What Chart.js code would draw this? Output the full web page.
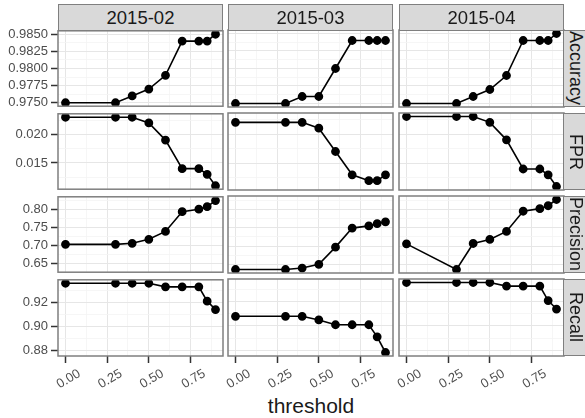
<!DOCTYPE html>
<html>
<head>
<meta charset="utf-8">
<script src="https://cdn.jsdelivr.net/npm/chart.js@4.4.1/dist/chart.umd.min.js"></script>
<style>
    body { margin: 0; width: 585px; height: 418px; position: relative; background: #fff; overflow: hidden;
           font-family: "Liberation Sans", Arial, sans-serif; }
    canvas { position: absolute; }
    .strip { position: absolute; background: #d9d9d9; border: 1px solid #7f7f7f; box-sizing: border-box;
             display: flex; align-items: center; justify-content: center; color: #1a1a1a;
             font-size: 18.5px; overflow: hidden; }
    .strip.right { font-size: 18px; }
    .strip.right span { writing-mode: vertical-rl; }
    #x-title { position: absolute; left: 58px; width: 506px; top: 395px; line-height: 21px;
               text-align: center; font-size: 21px; color: #1a1a1a; }
</style>
</head>
<body>
<div id="x-title">threshold</div>
<script>
// Facet labels
const months = ['2015-02', '2015-03', '2015-04'];
const metrics = ['Accuracy', 'FPR', 'Precision', 'Recall'];

// x values shared by every panel
const thresholds = [0, 0.3, 0.4, 0.5, 0.6, 0.7, 0.8, 0.85, 0.9];

// Series (one per month / metric)
const accuracy02 = [0.975, 0.975, 0.976, 0.977, 0.979, 0.984, 0.984, 0.984, 0.985];
const accuracy03 = [0.975, 0.975, 0.976, 0.976, 0.980, 0.984, 0.984, 0.984, 0.984];
const accuracy04 = [0.975, 0.975, 0.976, 0.977, 0.979, 0.984, 0.984, 0.984, 0.985];

const fpr02 = [0.023, 0.023, 0.023, 0.022, 0.019, 0.014, 0.014, 0.013, 0.011];
const fpr03 = [0.022, 0.022, 0.022, 0.021, 0.017, 0.013, 0.012, 0.012, 0.013];
const fpr04 = [0.023, 0.023, 0.023, 0.022, 0.019, 0.014, 0.014, 0.013, 0.011];

const precision02 = [0.704, 0.704, 0.707, 0.718, 0.740, 0.795, 0.802, 0.809, 0.826];
const precision03 = [0.636, 0.636, 0.640, 0.650, 0.697, 0.749, 0.755, 0.761, 0.766];
const precision04 = [0.706, 0.636, 0.707, 0.718, 0.740, 0.795, 0.802, 0.810, 0.827];

const recall02 = [0.936, 0.936, 0.936, 0.936, 0.933, 0.933, 0.933, 0.921, 0.914];
const recall03 = [0.908, 0.908, 0.908, 0.905, 0.901, 0.901, 0.901, 0.891, 0.878];
const recall04 = [0.936, 0.936, 0.936, 0.936, 0.933, 0.933, 0.933, 0.921, 0.914];

// Tick labels
const xTickLabels = ['0.00', '0.25', '0.50', '0.75'];
const accuracyTicks = ['0.9750', '0.9775', '0.9800', '0.9825', '0.9850'];
const fprTicks = ['0.015', '0.020'];
const precisionTicks = ['0.65', '0.70', '0.75', '0.80'];
const recallTicks = ['0.88', '0.90', '0.92'];

const seriesByRow = [
    [accuracy02, accuracy03, accuracy04],
    [fpr02, fpr03, fpr04],
    [precision02, precision03, precision04],
    [recall02, recall03, recall04]
];
const ticksByRow = [accuracyTicks, fprTicks, precisionTicks, recallTicks];

// Layout (pixels)
const colLeft = [58, 228, 399];
const rowTop = [30, 113, 196, 279];
const PANEL_W = 165, PANEL_H = 77;
const AXIS_W = 58, PAD = 10, X_AXIS_H = 50;

Chart.defaults.font.family = '"Liberation Sans", Arial, sans-serif';

// ggplot style range: data range expanded by 5% each side
const expand = (vals) => {
    const lo = Math.min(...vals), hi = Math.max(...vals);
    const d = (hi - lo) * 0.05;
    return [lo - d, hi + d];
};

// major ticks plus minor ticks halfway between them
const buildTicks = (labels, min, max) => {
    const majors = labels.map(l => parseFloat(l));
    const step = majors[1] - majors[0];
    const all = majors.slice();
    majors.forEach(v => all.push(v - step / 2));
    all.push(majors[majors.length - 1] + step / 2);
    return all.filter(v => v >= min && v <= max).sort((a, b) => a - b);
};

const labelFor = (labels, value) => {
    const hit = labels.find(l => Math.abs(parseFloat(l) - value) < 1e-9);
    return hit || '';
};
const isMajor = (labels, value) => labels.some(l => Math.abs(parseFloat(l) - value) < 1e-9);

const panelBorder = {
    id: 'panelBorder',
    afterDraw: (chart) => {
        const { ctx, chartArea: a } = chart;
        ctx.save();
        ctx.strokeStyle = '#7f7f7f';
        ctx.lineWidth = 1.5;
        ctx.strokeRect(a.left, a.top, a.right - a.left, a.bottom - a.top);
        ctx.restore();
    }
};

const [xMin, xMax] = expand(thresholds);

metrics.forEach((metric, r) => {
    const lastRow = r === metrics.length - 1;
    const yLabels = ticksByRow[r];
    const [yMin, yMax] = expand(seriesByRow[r].flat());

    months.forEach((month, c) => {
        const firstCol = c === 0;
        const canvas = document.createElement('canvas');
        const w = AXIS_W + PANEL_W + PAD;
        const h = PAD + PANEL_H + (lastRow ? X_AXIS_H : PAD);
        canvas.width = w;
        canvas.height = h;
        canvas.style.left = (colLeft[c] - AXIS_W) + 'px';
        canvas.style.top = (rowTop[r] - PAD) + 'px';
        canvas.style.width = w + 'px';
        canvas.style.height = h + 'px';
        document.body.appendChild(canvas);

        const values = seriesByRow[r][c];

        new Chart(canvas.getContext('2d'), {
            type: 'line',
            data: {
                datasets: [{
                    data: thresholds.map((x, i) => ({ x: x, y: values[i] })),
                    borderColor: '#000',
                    backgroundColor: '#000',
                    borderWidth: 1.6,
                    pointRadius: 3.6,
                    pointHoverRadius: 3.6,
                    tension: 0
                }]
            },
            options: {
                responsive: false,
                animation: false,
                events: [],
                layout: { padding: { left: 0, top: PAD, right: PAD, bottom: lastRow ? 0 : PAD } },
                plugins: { legend: { display: false }, tooltip: { enabled: false } },
                scales: {
                    x: {
                        type: 'linear',
                        min: xMin,
                        max: xMax,
                        afterBuildTicks: (s) => { s.ticks = buildTicks(xTickLabels, xMin, xMax).map(v => ({ value: v })); },
                        afterFit: (s) => { s.height = lastRow ? X_AXIS_H : 0; },
                        border: { display: false },
                        grid: {
                            color: (ctx) => isMajor(xTickLabels, ctx.tick.value) ? '#e6e6e6' : '#f4f4f4',
                            lineWidth: (ctx) => isMajor(xTickLabels, ctx.tick.value) ? 1 : 0.8,
                            drawTicks: lastRow,
                            tickLength: 7,
                            tickColor: (ctx) => isMajor(xTickLabels, ctx.tick.value) ? '#333' : 'rgba(0,0,0,0)',
                            tickWidth: 1.5
                        },
                        ticks: {
                            display: lastRow,
                            autoSkip: false,
                            minRotation: 30,
                            maxRotation: 30,
                            padding: 3,
                            labelOffset: 14,
                            color: '#4d4d4d',
                            font: { size: 13 },
                            callback: (v) => labelFor(xTickLabels, v)
                        }
                    },
                    y: {
                        type: 'linear',
                        min: yMin,
                        max: yMax,
                        afterBuildTicks: (s) => { s.ticks = buildTicks(yLabels, yMin, yMax).map(v => ({ value: v })); },
                        afterFit: (s) => { s.width = AXIS_W; },
                        border: { display: false },
                        grid: {
                            color: (ctx) => isMajor(yLabels, ctx.tick.value) ? '#e6e6e6' : '#f4f4f4',
                            lineWidth: (ctx) => isMajor(yLabels, ctx.tick.value) ? 1 : 0.8,
                            drawTicks: firstCol,
                            tickLength: 7,
                            tickColor: (ctx) => isMajor(yLabels, ctx.tick.value) ? '#333' : 'rgba(0,0,0,0)',
                            tickWidth: 1.5
                        },
                        ticks: {
                            display: firstCol,
                            autoSkip: false,
                            padding: 3,
                            color: '#4d4d4d',
                            font: { size: 13 },
                            callback: (v) => labelFor(yLabels, v)
                        }
                    }
                }
            },
            plugins: [panelBorder]
        });
    });
});

// Facet strips (top: month, right: metric)
months.forEach((month, c) => {
    const div = document.createElement('div');
    div.className = 'strip';
    div.style.left = colLeft[c] + 'px';
    div.style.top = '4px';
    div.style.width = PANEL_W + 'px';
    div.style.height = '27px';
    div.innerHTML = `<span>${month}</span>`;
    document.body.appendChild(div);
});
metrics.forEach((metric, r) => {
    const div = document.createElement('div');
    div.className = 'strip right';
    div.style.left = (colLeft[2] + PANEL_W - 1) + 'px';
    div.style.top = rowTop[r] + 'px';
    div.style.width = '24px';
    div.style.height = PANEL_H + 'px';
    div.innerHTML = `<span>${metric}</span>`;
    document.body.appendChild(div);
});
</script>
</body>
</html>
